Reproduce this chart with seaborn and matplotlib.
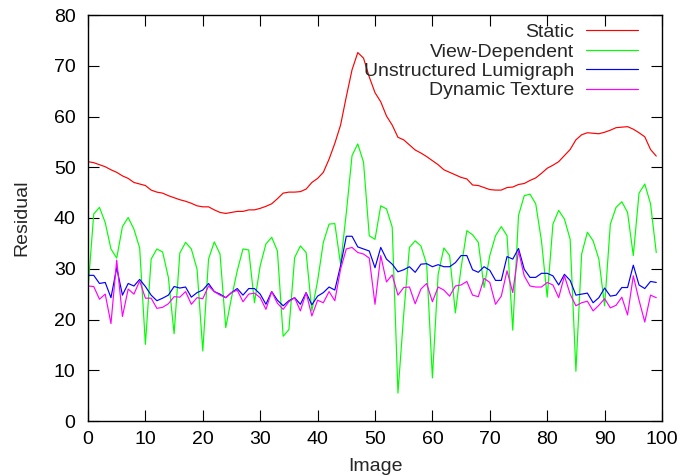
import numpy as np
import pandas as pd
import matplotlib
matplotlib.use("Agg")
import matplotlib.pyplot as plt
import seaborn as sns

image = list(range(100))

static = [51.1, 50.9, 50.5, 50.1, 49.5, 49.0, 48.3, 47.8, 47.0, 46.7,
          46.4, 45.5, 45.1, 44.9, 44.4, 44.0, 43.6, 43.3, 42.9, 42.4,
          42.2, 42.2, 41.6, 41.1, 40.9, 41.1, 41.3, 41.3, 41.6, 41.6,
          41.9, 42.3, 42.8, 43.8, 44.9, 45.1, 45.1, 45.2, 45.7, 47.0,
          47.8, 49.0, 51.6, 54.7, 58.3, 63.9, 69.2, 72.6, 71.5, 67.8,
          64.7, 62.9, 60.1, 58.3, 55.9, 55.4, 54.4, 53.4, 52.8, 52.1,
          51.3, 50.5, 49.5, 49.0, 48.5, 48.0, 47.7, 46.5, 46.4, 46.0,
          45.6, 45.5, 45.5, 46.0, 46.1, 46.6, 46.8, 47.4, 47.9, 48.8,
          49.8, 50.4, 51.1, 52.3, 53.5, 55.4, 56.4, 56.8, 56.7, 56.6,
          56.9, 57.3, 57.8, 57.9, 58.0, 57.5, 56.8, 56.0, 53.5, 52.2]

view_dependent = [26.0, 40.8, 42.1, 39.1, 33.9, 32.1, 38.3, 40.1, 37.8, 34.1,
                  15.1, 31.9, 33.9, 33.3, 28.3, 17.2, 33.1, 35.2, 33.9, 29.9,
                  13.8, 31.9, 35.3, 32.9, 18.4, 24.3, 29.6, 33.9, 33.7, 23.3,
                  30.6, 34.9, 36.2, 33.5, 16.7, 18.0, 32.2, 34.5, 33.2, 21.7,
                  27.6, 35.2, 38.8, 38.9, 30.9, 41.0, 52.3, 54.6, 51.0, 36.5,
                  35.8, 42.4, 41.8, 38.2, 5.5, 21.0, 34.2, 35.5, 34.5, 30.9,
                  8.5, 28.9, 34.1, 32.6, 21.3, 30.2, 37.5, 36.7, 35.2, 26.3,
                  32.6, 36.5, 38.3, 36.5, 17.9, 40.5, 44.4, 44.7, 42.8, 35.5,
                  24.4, 38.8, 41.5, 39.8, 35.8, 9.8, 32.9, 37.2, 35.5, 31.9,
                  22.7, 38.8, 42.1, 43.2, 41.1, 32.6, 44.9, 46.7, 42.8, 33.2]

unstructured = [28.7, 28.7, 27.1, 27.3, 24.3, 30.2, 24.8, 27.1, 26.6, 27.9,
                26.5, 24.8, 23.7, 24.2, 24.8, 26.5, 26.2, 26.4, 24.4, 25.3,
                25.8, 27.1, 25.5, 25.0, 24.3, 25.3, 26.1, 24.8, 26.1, 26.1,
                25.0, 23.0, 25.5, 23.8, 22.7, 23.7, 24.3, 23.0, 25.3, 22.9,
                24.6, 25.3, 26.4, 25.8, 30.6, 36.4, 36.4, 34.3, 33.9, 33.5,
                30.2, 34.2, 31.9, 30.9, 29.4, 29.8, 30.4, 29.3, 30.9, 31.0,
                30.4, 30.8, 30.4, 30.4, 31.2, 32.6, 32.6, 29.8, 29.3, 30.4,
                29.7, 27.7, 27.7, 32.4, 31.9, 34.0, 29.9, 28.3, 28.3, 29.1,
                29.1, 28.6, 26.8, 28.9, 27.7, 24.8, 25.0, 25.2, 23.3, 24.3,
                26.2, 24.6, 24.8, 26.3, 26.3, 30.7, 26.8, 26.1, 27.5, 27.3]

dynamic = [26.6, 26.5, 24.0, 25.0, 19.2, 31.7, 20.6, 26.0, 25.0, 27.6,
           24.2, 24.2, 22.2, 22.4, 23.1, 24.5, 24.4, 25.5, 23.0, 24.3,
           24.1, 26.6, 25.5, 24.8, 24.3, 25.3, 25.8, 23.5, 25.0, 25.2,
           24.3, 22.0, 25.5, 23.2, 22.0, 23.5, 24.3, 21.7, 25.3, 20.7,
           23.8, 23.3, 25.5, 23.7, 29.9, 33.9, 34.2, 33.2, 32.9, 32.1,
           23.0, 32.6, 27.4, 28.8, 24.8, 26.3, 26.4, 23.1, 26.0, 27.1,
           23.5, 26.4, 25.8, 24.6, 26.6, 26.8, 27.5, 24.8, 24.5, 28.1,
           27.3, 23.0, 24.6, 29.6, 25.3, 33.5, 28.6, 26.6, 26.4, 26.4,
           27.3, 26.8, 24.3, 28.6, 25.0, 22.7, 23.3, 23.6, 21.7, 22.8,
           24.1, 22.3, 22.8, 24.4, 20.9, 28.6, 23.8, 19.5, 24.8, 24.3]

series_names = ["Static", "View-Dependent", "Unstructured Lumigraph", "Dynamic Texture"]
colors = ["#ff0000", "#00ff00", "#0000ff", "#ff00ff"]
x_ticks = list(range(0, 101, 10))
y_ticks = list(range(0, 81, 10))

df = pd.DataFrame({
    "Image": image * 4,
    "Residual": static + view_dependent + unstructured + dynamic,
    "Method": np.repeat(series_names, len(image)),
})

sns.set_style("ticks")
plt.rcParams["font.family"] = ["Liberation Sans", "DejaVu Sans"]

fig = plt.figure(figsize=(6.81, 4.76), dpi=100)
ax = fig.add_axes([88 / 681, 1 - 421 / 476, 574 / 681, 406 / 476])

sns.lineplot(data=df, x="Image", y="Residual", hue="Method",
             hue_order=series_names, palette=colors, linewidth=0.85,
             ax=ax, legend=True)

ax.set_xlim(0, 100)
ax.set_ylim(0, 80)
ax.set_xticks(x_ticks)
ax.set_yticks(y_ticks)
ax.tick_params(axis="both", direction="in", length=8, width=0.8,
               top=True, right=True, labelsize=14, colors="black")
ax.tick_params(axis="y", pad=9)
ax.tick_params(axis="x", pad=7)
for s in ax.spines.values():
    s.set_linewidth(1.0)
    s.set_color("black")
    s.set_visible(True)

ax.set_xlabel("Image", fontsize=14)
ax.set_ylabel("Residual", fontsize=14)
ax.xaxis.set_label_coords(0.5, -0.092)
ax.yaxis.set_label_coords(-0.1, 0.5)

handles, labels = ax.get_legend_handles_labels()
leg = ax.legend(handles, labels, loc="upper right", frameon=False,
                markerfirst=False, fontsize=14, handlelength=2.65,
                handletextpad=0.65, labelspacing=0.095, borderpad=0,
                borderaxespad=0, bbox_to_anchor=(1 - 24 / 574, 1 - 8.5 / 406))
for line in leg.get_lines():
    line.set_linewidth(0.85)

fig.savefig("out.png", dpi=100)
